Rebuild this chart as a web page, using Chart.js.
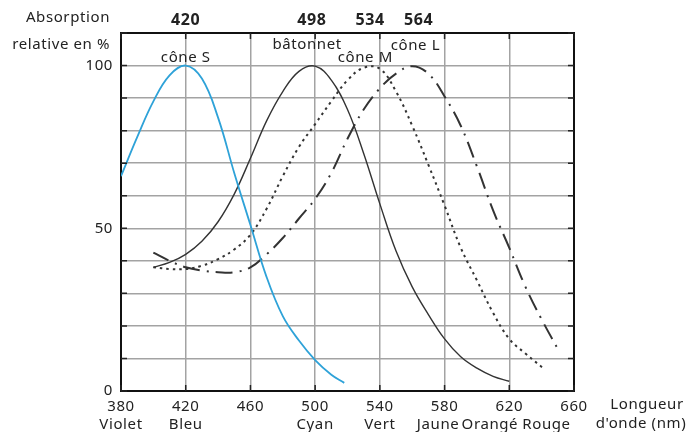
<!DOCTYPE html>
<html>
<head>
<meta charset="utf-8">
<script src="https://cdn.jsdelivr.net/npm/chart.js@4.4.1/dist/chart.umd.min.js"></script>
<style>
  body { margin: 0; background: #fff; }
  #wrap { width: 699px; height: 432px; }
</style>
</head>
<body>
<div id="wrap"><canvas id="absorption"></canvas></div>
<script>
// wavelengths (nm) and relative absorption (%)
const wlS = [380, 390, 400, 410, 420, 430, 440, 450, 460, 470, 480, 490, 500, 510, 518];
const coneS = [66, 78, 89, 97, 100, 96, 84, 67, 51, 35, 23, 15.5, 9.5, 5, 2.5];

const wlRod = [400, 410, 420, 430, 440, 450, 460, 470, 480, 490, 500, 510, 520, 530, 540, 550, 560, 570, 580, 590, 600, 610, 620];
const rod = [38, 39.5, 42, 46, 52, 60.5, 71.5, 83, 92, 98.2, 99.8, 95.5, 86.5, 73, 57.5, 43, 32, 23.5, 16, 10.5, 7, 4.5, 3];

const wlM = [400, 410, 420, 430, 440, 450, 460, 470, 480, 490, 500, 510, 520, 530, 540, 550, 560, 570, 580, 590, 600, 610, 620, 630, 641];
const coneM = [38, 37.5, 37.5, 38.5, 40.5, 43.5, 48, 56, 66, 75, 82, 89, 95.5, 99.3, 99, 92, 81.5, 69.5, 57, 44, 34, 24, 16, 11.5, 7];

const wlL = [400, 410, 420, 430, 440, 450, 460, 470, 480, 490, 500, 510, 520, 530, 540, 550, 560, 570, 580, 590, 600, 610, 620, 630, 640, 651];
const coneL = [42.5, 40, 38, 37, 36.5, 36.5, 38, 42, 47, 53, 59, 67, 77.5, 86.5, 93, 97.5, 99.8, 97.5, 90.5, 81.5, 69, 55.5, 44, 32, 22, 12];

const peakTicks = [420, 498, 534, 564];
const curveNames = ["cône S", "bâtonnet", "cône M", "cône L"];
const curveNameNm = [420, 495, 531, 562];
const curveNameLevel = [102.5, 106.5, 102.5, 106];

const colourNames = ["Violet", "Bleu", "Cyan", "Vert", "Jaune", "Orangé", "Rouge"];
const colourNm = [380, 420, 500, 540, 576, 608, 643];

const FONT = "'Noto Sans', sans-serif";
const pts = (xs, ys) => xs.map((x, i) => ({ x: x, y: ys[i] }));

const extras = {
  id: "extras",
  beforeDraw(chart) {
    chart.ctx.letterSpacing = "0.6px";
  },
  afterDraw(chart) {
    const ctx = chart.ctx;
    const x = chart.scales.x;
    const y = chart.scales.y;
    const area = chart.chartArea;
    ctx.save();

    // short dark ticks inside the frame
    ctx.strokeStyle = "#222";
    ctx.lineWidth = 1.5;
    ctx.beginPath();
    x.ticks.forEach((t) => {
      const px = x.getPixelForValue(t.value);
      ctx.moveTo(px, area.bottom);
      ctx.lineTo(px, area.bottom - 6);
      ctx.moveTo(px, area.top);
      ctx.lineTo(px, area.top + 6);
    });
    y.ticks.forEach((t) => {
      const py = y.getPixelForValue(t.value);
      ctx.moveTo(area.left, py);
      ctx.lineTo(area.left + 6, py);
      ctx.moveTo(area.right, py);
      ctx.lineTo(area.right - 6, py);
    });
    ctx.stroke();

    ctx.fillStyle = "#222";
    ctx.font = "15px " + FONT;
    ctx.textBaseline = "middle";

    // curve names
    ctx.textAlign = "center";
    curveNames.forEach((name, i) => {
      ctx.fillText(name, x.getPixelForValue(curveNameNm[i]), y.getPixelForValue(curveNameLevel[i]));
    });

    // colour names under the wavelength ticks
    colourNames.forEach((name, i) => {
      ctx.fillText(name, x.getPixelForValue(colourNm[i]), area.bottom + 34);
    });

    // axis titles
    ctx.textAlign = "right";
    ctx.fillText("Absorption", 110, 18);
    ctx.fillText("relative en %", 110, 45);
    ctx.textAlign = "center";
    ctx.fillText("Longueur", 647, 405);
    ctx.fillText("d'onde (nm)", 641, 424);

    ctx.restore();
  },
};

const gridColor = "#a3a3a3";

new Chart(document.getElementById("absorption"), {
  type: "line",
  data: {
    datasets: [
      {
        label: "cône S",
        data: pts(wlS, coneS),
        borderColor: "#2ea2d8",
        borderWidth: 1.8,
      },
      {
        label: "bâtonnet",
        data: pts(wlRod, rod),
        borderColor: "#333",
        borderWidth: 1.4,
      },
      {
        label: "cône M",
        data: pts(wlM, coneM),
        borderColor: "#333",
        borderWidth: 2,
        borderDash: [2.5, 4],
      },
      {
        label: "cône L",
        data: pts(wlL, coneL),
        borderColor: "#333",
        borderWidth: 2,
        borderDash: [17, 7, 2, 7],
      },
    ],
  },
  options: {
    responsive: true,
    maintainAspectRatio: false,
    animation: false,
    layout: { padding: 0 },
    elements: {
      point: { radius: 0 },
      line: { tension: 0.4, fill: false },
    },
    plugins: {
      legend: { display: false },
      tooltip: { enabled: false },
    },
    scales: {
      x: {
        type: "linear",
        position: "bottom",
        min: 380,
        max: 660,
        afterFit: (s) => { s.height = 41; },
        ticks: {
          stepSize: 40,
          autoSkip: false,
          maxRotation: 0,
          padding: 7,
          color: "#222",
          font: { family: FONT, size: 15 },
        },
        grid: { color: gridColor, lineWidth: 1.5, drawTicks: false },
        border: { color: "#111", width: 2 },
      },
      xTop: {
        type: "linear",
        position: "top",
        min: 380,
        max: 660,
        afterFit: (s) => { s.height = 33; },
        afterBuildTicks: (s) => { s.ticks = peakTicks.map((v) => ({ value: v })); },
        ticks: {
          autoSkip: false,
          maxRotation: 0,
          padding: 3,
          color: "#222",
          font: { family: FONT, size: 16, weight: "bold" },
        },
        grid: { drawOnChartArea: false, drawTicks: false },
        border: { color: "#111", width: 2 },
      },
      y: {
        type: "linear",
        position: "left",
        min: 0,
        max: 110,
        afterFit: (s) => { s.width = 121; },
        ticks: {
          stepSize: 10,
          autoSkip: false,
          padding: 8,
          color: "#222",
          font: { family: FONT, size: 15 },
          callback: (v) => (v % 50 === 0 && v <= 100 ? v : ""),
        },
        grid: { color: gridColor, lineWidth: 1.5, drawTicks: false },
        border: { color: "#111", width: 2 },
      },
      yRight: {
        type: "linear",
        position: "right",
        min: 0,
        max: 110,
        afterFit: (s) => { s.width = 125; },
        ticks: { display: false },
        grid: { drawOnChartArea: false, drawTicks: false },
        border: { color: "#111", width: 2 },
      },
    },
  },
  plugins: [extras],
});
</script>
</body>
</html>
